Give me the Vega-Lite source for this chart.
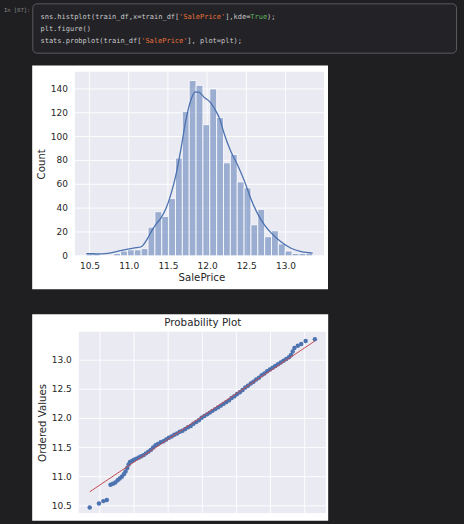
{
  "$schema": "https://vega.github.io/schema/vega-lite/v6.json",
  "background": "#1f1f22",
  "padding": {"left": 2.8, "top": 2.8, "right": 10, "bottom": 8},
  "config": {
    "view": {"stroke": null},
    "font": "DejaVu Sans",
    "axis": {"grid": false, "ticks": false, "tickSize": 0, "domain": false, "labelOverlap": false, "labelFlush": false, "labelFont": "DejaVu Sans", "titleFont": "DejaVu Sans", "labelFontSize": 9, "titleFontSize": 10.2, "labelColor": "#262626", "titleColor": "#262626", "titleFontWeight": "normal", "labelPadding": 7}
  },
  "spacing": 11,
  "vconcat": [
    {
      "width": 377.7,
      "height": 49.4,
      "layer": [
        {
          "data": {"values": [{}]},
          "mark": {"type": "rect", "fill": "#232327", "stroke": "#5a5a5e", "strokeWidth": 1, "cornerRadius": 4},
          "encoding": {
            "x": {"datum": -1.835, "type": "quantitative", "scale": {"domain": [9.128, 99.14], "nice": false, "zero": false}, "axis": null},
            "x2": {"datum": 99.14},
            "y": {"datum": -0.028, "type": "quantitative", "scale": {"domain": [-0.028, 3.97], "nice": false, "zero": false, "reverse": true}},
            "y2": {"datum": 3.97}
          }
        },
        {
          "data": {"values": [
            {"line": 1, "col": 0, "text": "sns.histplot(train_df,x=train_df[", "kind": "plain"},
            {"line": 1, "col": 33, "text": "'SalePrice'", "kind": "string"},
            {"line": 1, "col": 44, "text": "],kde=", "kind": "plain"},
            {"line": 1, "col": 50, "text": "True", "kind": "keyword"},
            {"line": 1, "col": 54, "text": ");", "kind": "plain"},
            {"line": 2, "col": 0, "text": "plt.figure()", "kind": "plain"},
            {"line": 3, "col": 0, "text": "stats.probplot(train_df[", "kind": "plain"},
            {"line": 3, "col": 24, "text": "'SalePrice'", "kind": "string"},
            {"line": 3, "col": 35, "text": "], plot=plt);", "kind": "plain"}
          ]},
          "mark": {"type": "text", "align": "left", "baseline": "middle", "font": "DejaVu Sans Mono", "fontSize": 7},
          "encoding": {
            "x": {"field": "col", "type": "quantitative", "scale": {"domain": [9.128, 99.14], "nice": false, "zero": false}, "axis": null},
            "y": {"field": "line", "type": "quantitative", "scale": {"domain": [-0.028, 3.97], "nice": false, "zero": false, "reverse": true},
                  "axis": {"title": "In [87]:", "labels": false, "zindex": 1, "titleAngle": 0, "titleAlign": "right", "titleBaseline": "middle", "titleY": 6, "titlePadding": 49, "titleFont": "DejaVu Sans Mono", "titleFontSize": 5.5, "titleColor": "#8a8a8a"}},
            "text": {"field": "text"},
            "color": {"field": "kind", "type": "nominal", "scale": {"domain": ["plain", "string", "keyword"], "range": ["#c8c8c8", "#e8703a", "#5fb760"]}, "legend": null}
          }
        }
      ]
    },
    {
      "spacing": 24,
      "vconcat": [
        {
          "width": 245.2,
          "height": 184,
          "layer": [
            {
              "data": {"values": [{}]},
              "mark": {"type": "rect", "color": "#ffffff"},
              "encoding": {
                "x": {"datum": 9.7704, "type": "quantitative", "scale": {"domain": [10.3645, 13.49], "nice": false, "zero": false}},
                "x2": {"datum": 13.541},
                "y": {"datum": 159.65, "type": "quantitative", "scale": {"domain": [0, 154.35], "nice": false, "zero": false}},
                "y2": {"datum": -28.0}
              }
            },
            {
              "data": {"values": [{}]},
              "mark": {"type": "rect", "color": "#eaeaf2"},
              "encoding": {
                "x": {"datum": 10.316, "type": "quantitative", "scale": {"domain": [10.3645, 13.49], "nice": false, "zero": false}},
                "x2": {"datum": 13.49},
                "y": {"datum": 154.35, "type": "quantitative", "scale": {"domain": [0, 154.35], "nice": false, "zero": false}},
                "y2": {"datum": 0}
              }
            },
            {
              "data": {"values": [{"v": 10.5}, {"v": 11.0}, {"v": 11.5}, {"v": 12.0}, {"v": 12.5}, {"v": 13.0}]},
              "mark": {"type": "rule", "color": "#ffffff", "strokeWidth": 0.9},
              "encoding": {
                "x": {"field": "v", "type": "quantitative", "scale": {"domain": [10.3645, 13.49], "nice": false, "zero": false}}
              }
            },
            {
              "data": {"values": [{"v": 0, "label": "0"}, {"v": 20, "label": "20"}, {"v": 40, "label": "40"}, {"v": 60, "label": "60"}, {"v": 80, "label": "80"}, {"v": 100, "label": "100"}, {"v": 120, "label": "120"}, {"v": 140, "label": "140"}]},
              "layer": [
                {
                  "mark": {"type": "rule", "color": "#ffffff", "strokeWidth": 0.9},
                  "encoding": {
                    "x": {"datum": 10.316, "type": "quantitative", "scale": {"domain": [10.3645, 13.49], "nice": false, "zero": false}},
                    "x2": {"datum": 13.49},
                    "y": {"field": "v", "type": "quantitative", "scale": {"domain": [0, 154.35], "nice": false, "zero": false}}
                  }
                },
                {
                  "mark": {"type": "text", "align": "right", "baseline": "middle", "dx": -7, "font": "DejaVu Sans", "fontSize": 9, "color": "#262626"},
                  "encoding": {
                    "x": {"datum": 10.316, "type": "quantitative", "scale": {"domain": [10.3645, 13.49], "nice": false, "zero": false}},
                    "y": {"field": "v", "type": "quantitative", "scale": {"domain": [0, 154.35], "nice": false, "zero": false}},
                    "text": {"field": "label"}
                  }
                }
              ]
            },
            {
              "data": {"values": [
                {"bin_start": 10.4603, "bin_end": 10.5477, "count": 2},
                {"bin_start": 10.5477, "bin_end": 10.6352, "count": 2},
                {"bin_start": 10.8100, "bin_end": 10.8975, "count": 2},
                {"bin_start": 10.8975, "bin_end": 10.9849, "count": 4},
                {"bin_start": 10.9849, "bin_end": 11.0723, "count": 5},
                {"bin_start": 11.0723, "bin_end": 11.1597, "count": 5},
                {"bin_start": 11.1597, "bin_end": 11.2472, "count": 6},
                {"bin_start": 11.2472, "bin_end": 11.3346, "count": 24},
                {"bin_start": 11.3346, "bin_end": 11.4220, "count": 37},
                {"bin_start": 11.4220, "bin_end": 11.5095, "count": 33},
                {"bin_start": 11.5095, "bin_end": 11.5969, "count": 48},
                {"bin_start": 11.5969, "bin_end": 11.6843, "count": 82},
                {"bin_start": 11.6843, "bin_end": 11.7718, "count": 121},
                {"bin_start": 11.7718, "bin_end": 11.8592, "count": 147},
                {"bin_start": 11.8592, "bin_end": 11.9466, "count": 143},
                {"bin_start": 11.9466, "bin_end": 12.0340, "count": 110},
                {"bin_start": 12.0340, "bin_end": 12.1215, "count": 140},
                {"bin_start": 12.1215, "bin_end": 12.2089, "count": 116},
                {"bin_start": 12.2089, "bin_end": 12.2963, "count": 78},
                {"bin_start": 12.2963, "bin_end": 12.3838, "count": 85},
                {"bin_start": 12.3838, "bin_end": 12.4712, "count": 62},
                {"bin_start": 12.4712, "bin_end": 12.5586, "count": 57},
                {"bin_start": 12.5586, "bin_end": 12.6461, "count": 26},
                {"bin_start": 12.6461, "bin_end": 12.7335, "count": 39},
                {"bin_start": 12.7335, "bin_end": 12.8209, "count": 16},
                {"bin_start": 12.8209, "bin_end": 12.9083, "count": 21},
                {"bin_start": 12.9083, "bin_end": 12.9958, "count": 10},
                {"bin_start": 12.9958, "bin_end": 13.0832, "count": 4},
                {"bin_start": 13.0832, "bin_end": 13.1706, "count": 2},
                {"bin_start": 13.1706, "bin_end": 13.2581, "count": 2},
                {"bin_start": 13.2581, "bin_end": 13.3455, "count": 2}
              ]},
              "mark": {"type": "rect", "fill": "#4c72b0", "fillOpacity": 0.5, "stroke": "#ffffff", "strokeWidth": 0.8},
              "encoding": {
                "x": {"field": "bin_start", "type": "quantitative", "scale": {"domain": [10.3645, 13.49], "nice": false, "zero": false},
                      "axis": {"title": "SalePrice", "zindex": 1, "labelOverlap": false, "values": [10.5, 11.0, 11.5, 12.0, 12.5, 13.0], "format": ".1f", "labelPadding": 5.5, "titlePadding": 2.5}},
                "x2": {"field": "bin_end"},
                "y": {"field": "count", "type": "quantitative", "scale": {"domain": [0, 154.35], "nice": false, "zero": false},
                      "axis": {"title": "Count", "zindex": 1, "labels": false, "titlePadding": 32}},
                "y2": {"datum": 0}
              }
            },
            {
              "data": {"values": [
                {"price": 10.46, "kde_count": 1.8},
                {"price": 10.55, "kde_count": 1.7},
                {"price": 10.65, "kde_count": 1.6},
                {"price": 10.74, "kde_count": 2.0},
                {"price": 10.86, "kde_count": 3.8},
                {"price": 10.99, "kde_count": 5.6},
                {"price": 11.10, "kde_count": 6.8},
                {"price": 11.16, "kde_count": 7.6},
                {"price": 11.245, "kde_count": 15},
                {"price": 11.29, "kde_count": 20.5},
                {"price": 11.35, "kde_count": 26.5},
                {"price": 11.415, "kde_count": 32},
                {"price": 11.478, "kde_count": 40},
                {"price": 11.54, "kde_count": 52},
                {"price": 11.60, "kde_count": 67},
                {"price": 11.67, "kde_count": 91},
                {"price": 11.73, "kde_count": 114},
                {"price": 11.80, "kde_count": 132},
                {"price": 11.85, "kde_count": 137.5},
                {"price": 11.90, "kde_count": 137},
                {"price": 11.97, "kde_count": 132.5},
                {"price": 12.03, "kde_count": 129.5},
                {"price": 12.09, "kde_count": 124},
                {"price": 12.16, "kde_count": 115},
                {"price": 12.22, "kde_count": 102},
                {"price": 12.30, "kde_count": 88},
                {"price": 12.39, "kde_count": 76},
                {"price": 12.48, "kde_count": 62},
                {"price": 12.56, "kde_count": 47.5},
                {"price": 12.65, "kde_count": 34.5},
                {"price": 12.73, "kde_count": 26},
                {"price": 12.82, "kde_count": 19},
                {"price": 12.945, "kde_count": 11.5},
                {"price": 13.07, "kde_count": 6.3},
                {"price": 13.20, "kde_count": 3.5},
                {"price": 13.3455, "kde_count": 2.3}
              ]},
              "mark": {"type": "line", "color": "#4c72b0", "strokeWidth": 1.3, "interpolate": "monotone"},
              "encoding": {
                "x": {"field": "price", "type": "quantitative", "scale": {"domain": [10.3645, 13.49], "nice": false, "zero": false}},
                "y": {"field": "kde_count", "type": "quantitative", "scale": {"domain": [0, 154.35], "nice": false, "zero": false}}
              }
            }
          ]
        },
        {
          "width": 247,
          "height": 181.2,
          "layer": [
            {
              "data": {"values": [{}]},
              "mark": {"type": "rect", "color": "#ffffff"},
              "encoding": {
                "x": {"datum": -4.986, "type": "quantitative", "scale": {"domain": [-3.62, 3.62], "nice": false, "zero": false}},
                "x2": {"datum": 3.69},
                "y": {"datum": 13.79, "type": "quantitative", "scale": {"domain": [10.376, 13.488], "nice": false, "zero": false}},
                "y2": {"datum": 10.242}
              }
            },
            {
              "data": {"values": [{}]},
              "mark": {"type": "rect", "color": "#eaeaf2"},
              "encoding": {
                "x": {"datum": -3.62, "type": "quantitative", "scale": {"domain": [-3.62, 3.62], "nice": false, "zero": false}},
                "x2": {"datum": 3.62},
                "y": {"datum": 13.488, "type": "quantitative", "scale": {"domain": [10.376, 13.488], "nice": false, "zero": false}},
                "y2": {"datum": 10.376}
              }
            },
            {
              "data": {"values": [{"v": -3}, {"v": -2}, {"v": -1}, {"v": 0}, {"v": 1}, {"v": 2}, {"v": 3}]},
              "mark": {"type": "rule", "color": "#ffffff", "strokeWidth": 0.9},
              "encoding": {
                "x": {"field": "v", "type": "quantitative", "scale": {"domain": [-3.62, 3.62], "nice": false, "zero": false}}
              }
            },
            {
              "data": {"values": [{"v": 10.5, "label": "10.5"}, {"v": 11.0, "label": "11.0"}, {"v": 11.5, "label": "11.5"}, {"v": 12.0, "label": "12.0"}, {"v": 12.5, "label": "12.5"}, {"v": 13.0, "label": "13.0"}]},
              "layer": [
                {
                  "mark": {"type": "rule", "color": "#ffffff", "strokeWidth": 0.9},
                  "encoding": {
                    "y": {"field": "v", "type": "quantitative", "scale": {"domain": [10.376, 13.488], "nice": false, "zero": false}}
                  }
                },
                {
                  "mark": {"type": "text", "align": "right", "baseline": "middle", "dx": -7, "font": "DejaVu Sans", "fontSize": 9, "color": "#262626"},
                  "encoding": {
                    "x": {"datum": -3.62, "type": "quantitative", "scale": {"domain": [-3.62, 3.62], "nice": false, "zero": false}},
                    "y": {"field": "v", "type": "quantitative", "scale": {"domain": [10.376, 13.488], "nice": false, "zero": false}},
                    "text": {"field": "label"}
                  }
                }
              ]
            },
            {
              "data": {"values": [
                {"q": -3.30, "v": 10.47}, {"q": -3.03, "v": 10.54}, {"q": -2.90, "v": 10.58}, {"q": -2.80, "v": 10.60},
                {"q": -2.69, "v": 10.86}, {"q": -2.62, "v": 10.88}, {"q": -2.55, "v": 10.90}, {"q": -2.48, "v": 10.94},
                {"q": -2.42, "v": 10.97}, {"q": -2.36, "v": 11.00}, {"q": -2.30, "v": 11.04}, {"q": -2.25, "v": 11.09},
                {"q": -2.20, "v": 11.15}, {"q": -2.16, "v": 11.21}, {"q": -2.12, "v": 11.25}, {"q": -2.06, "v": 11.27},
                {"q": -2.00, "v": 11.29}, {"q": -1.93, "v": 11.31}, {"q": -1.86, "v": 11.33}, {"q": -1.79, "v": 11.35},
                {"q": -1.72, "v": 11.37}, {"q": -1.65, "v": 11.40}, {"q": -1.58, "v": 11.43}, {"q": -1.51, "v": 11.46},
                {"q": -1.44, "v": 11.50}, {"q": -1.37, "v": 11.54}, {"q": -1.30, "v": 11.56}, {"q": -1.22, "v": 11.59},
                {"q": -1.14, "v": 11.61}, {"q": -1.06, "v": 11.64}, {"q": -0.98, "v": 11.67}, {"q": -0.90, "v": 11.69},
                {"q": -0.82, "v": 11.72}, {"q": -0.74, "v": 11.74}, {"q": -0.66, "v": 11.77}, {"q": -0.58, "v": 11.79},
                {"q": -0.50, "v": 11.82}, {"q": -0.42, "v": 11.85}, {"q": -0.34, "v": 11.87}, {"q": -0.26, "v": 11.91},
                {"q": -0.18, "v": 11.94}, {"q": -0.10, "v": 11.97}, {"q": -0.02, "v": 12.01}, {"q": 0.06, "v": 12.04},
                {"q": 0.14, "v": 12.07}, {"q": 0.22, "v": 12.10}, {"q": 0.30, "v": 12.13}, {"q": 0.38, "v": 12.16},
                {"q": 0.46, "v": 12.19}, {"q": 0.54, "v": 12.22}, {"q": 0.62, "v": 12.25}, {"q": 0.70, "v": 12.28},
                {"q": 0.78, "v": 12.31}, {"q": 0.86, "v": 12.35}, {"q": 0.94, "v": 12.38}, {"q": 1.02, "v": 12.42},
                {"q": 1.10, "v": 12.45}, {"q": 1.18, "v": 12.49}, {"q": 1.26, "v": 12.53}, {"q": 1.34, "v": 12.56},
                {"q": 1.42, "v": 12.60}, {"q": 1.50, "v": 12.63}, {"q": 1.58, "v": 12.67}, {"q": 1.66, "v": 12.70},
                {"q": 1.74, "v": 12.74}, {"q": 1.82, "v": 12.77}, {"q": 1.90, "v": 12.81}, {"q": 1.98, "v": 12.84},
                {"q": 2.06, "v": 12.87}, {"q": 2.14, "v": 12.90}, {"q": 2.22, "v": 12.93}, {"q": 2.30, "v": 12.96},
                {"q": 2.38, "v": 12.99}, {"q": 2.46, "v": 13.02}, {"q": 2.54, "v": 13.05}, {"q": 2.60, "v": 13.09},
                {"q": 2.65, "v": 13.15}, {"q": 2.70, "v": 13.21}, {"q": 2.80, "v": 13.25}, {"q": 2.90, "v": 13.28},
                {"q": 3.03, "v": 13.33}, {"q": 3.30, "v": 13.36}
              ]},
              "mark": {"type": "point", "filled": true, "color": "#4c72b0", "size": 20, "opacity": 1},
              "encoding": {
                "x": {"field": "q", "type": "quantitative", "scale": {"domain": [-3.62, 3.62], "nice": false, "zero": false},
                      "axis": {"orient": "top", "title": "Probability Plot", "labels": false, "zindex": 1, "titleFontSize": 10.3, "titlePadding": 4.5}},
                "y": {"field": "v", "type": "quantitative", "scale": {"domain": [10.376, 13.488], "nice": false, "zero": false},
                      "axis": {"title": "Ordered Values", "zindex": 1, "labels": false, "titlePadding": 31}}
              }
            },
            {
              "data": {"values": [{"q": -3.30, "v": 10.74}, {"q": 3.30, "v": 13.33}]},
              "mark": {"type": "line", "color": "#c44e52", "strokeWidth": 1},
              "encoding": {
                "x": {"field": "q", "type": "quantitative", "scale": {"domain": [-3.62, 3.62], "nice": false, "zero": false}},
                "y": {"field": "v", "type": "quantitative", "scale": {"domain": [10.376, 13.488], "nice": false, "zero": false}}
              }
            }
          ]
        }
      ]
    }
  ]
}
